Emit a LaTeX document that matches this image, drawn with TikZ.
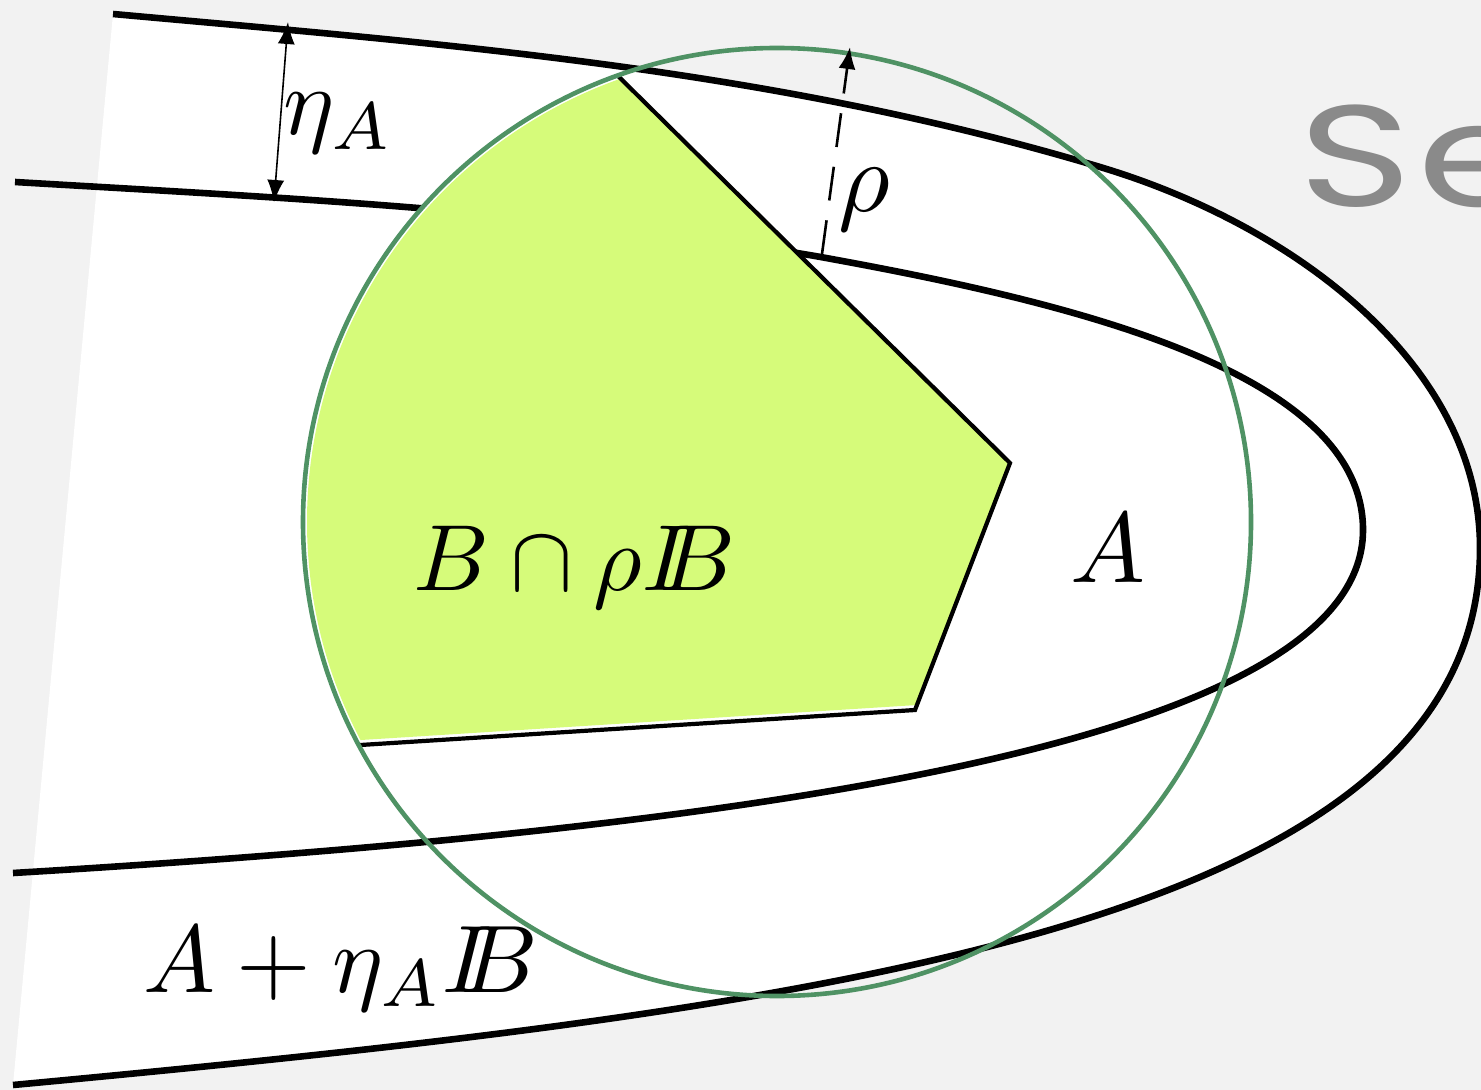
\documentclass[tikz,border=0pt]{standalone}
\usepackage{fontspec}
\newfontfamily\handfont{Poppins}
\usetikzlibrary{arrows.meta}
\definecolor{bg}{RGB}{242,242,242}
\definecolor{polyfill}{RGB}{214,251,122}
\definecolor{ringgreen}{RGB}{79,146,100}
\definecolor{handgray}{RGB}{138,138,138}
\newcommand{\hugemath}[2]{\scalebox{#1}{$#2$}}
\begin{document}
\begin{tikzpicture}[x=0.5pt,y=-0.5pt,
  curve/.style={line width=3.3pt},
  polyedge/.style={line width=2.1pt,line join=miter},
  ring/.style={draw=ringgreen,line width=2.3pt},
  dimarrow/.style={line width=0.8pt,{Latex[length=11pt,width=8.5pt]}-{Latex[length=11pt,width=8.5pt]}},
  radarrow/.style={line width=1.3pt,dash pattern=on 17pt off 10pt,-{Latex[length=11pt,width=8.5pt]}},
  lbl/.style={inner sep=0pt,anchor=base west},
  hand/.style={inner sep=0pt,anchor=base west,text=handgray,font=\handfont\fontsize{72}{80}\selectfont}]
\useasboundingbox (0,0) rectangle (1481,1090);
\fill[bg] (0,0) rectangle (1481,1090);
% paper
\fill[white] (113,14) .. controls (443,44) and (770,68) .. (1100,167)
  .. controls (1300,227) and (1480,368) .. (1480,548)
  .. controls (1480,928) and (813,1010) .. (13,1085) -- cycle;
% handwritten text
\node[hand] (se) at (1298,207) {\scalebox{1.35}[1]{S\kern2pt e}};
% outer curve  A + eta_A B
\draw[curve] (113,14) .. controls (443,44) and (770,68) .. (1100,167)
  .. controls (1300,227) and (1480,368) .. (1480,548)
  .. controls (1480,928) and (813,1010) .. (13,1085);
% inner curve  A
\draw[curve] (15,182) .. controls (285,198) and (545,210) .. (815,256)
  .. controls (1065,301) and (1363,370) .. (1363,530)
  .. controls (1363,750) and (713,831) .. (13,873);
% the set B intersected with the ball
\coordinate (C) at (777,522);
\coordinate (P1) at (617.6,75.6);
\coordinate (P2) at (1010,463);
\coordinate (P3) at (915,710);
\coordinate (P4) at (358.8,745.1);
\begin{scope}
  \clip (C) circle [radius=474];
  \fill[white] (542,1) -- (P2) -- (P3) -- (250,752) -- (0,760) -- (0,0) -- cycle;
\end{scope}
\begin{scope}
  \clip (C) circle [radius=470];
  \fill[polyfill] (542,1) -- (P2) -- (917,705) -- (250,747) -- (0,760) -- (0,0) -- cycle;
\end{scope}
\draw[polyedge] (P1) -- (P2) -- (P3) -- (P4);
\draw[ring] (C) circle [radius=474];
% dimension arrows
\coordinate (etaTop) at (288,22);
\coordinate (etaBot) at (274,202);
\draw[dimarrow] (etaTop) -- (etaBot);
\coordinate (rhoStart) at (822,254);
\coordinate (rhoEnd) at (850,47);
\draw[radarrow] (rhoStart) -- (rhoEnd);
% labels
\node[lbl] (etaLabel) at (283,135) {\hugemath{4.8}{\eta_A}};
\node[lbl] (rhoLabel) at (838,212) {\hugemath{5}{\rho}};
\node[lbl] (aLabel) at (1070,582) {\hugemath{5}{A}};
\node[lbl] (bLabel) at (413,590) {\hugemath{4.7}{B\cap\rho I\!\!B}};
\node[lbl] (aetaLabel) at (143,992) {\hugemath{4.8}{A+\eta_A I\!\!B}};
\end{tikzpicture}
\end{document}
